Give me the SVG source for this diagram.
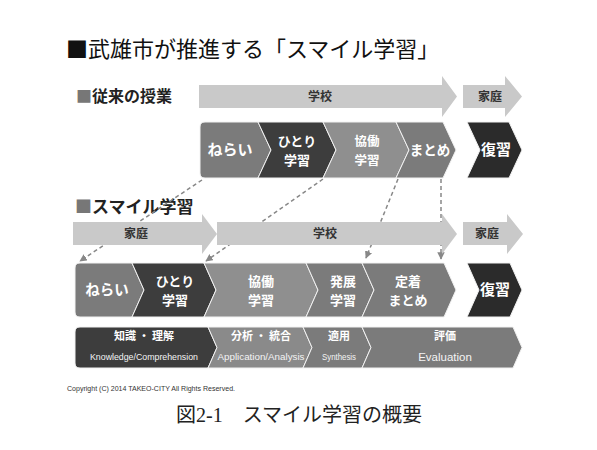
<svg xmlns="http://www.w3.org/2000/svg" width="597" height="450" viewBox="0 0 597 450">
<style>
.jp{font-family:"Noto Sans CJK JP","Liberation Sans",sans-serif}
.ttl{font-size:22px;fill:#111}
.sec{font-size:16px;font-weight:bold;fill:#222}
.arr{fill:#c9c9c9}
.al{font-size:12px;font-weight:bold;fill:#333;text-anchor:middle}
.ch{stroke:#f2f2f2;stroke-width:1}
.ct{fill:#fff;text-anchor:middle;font-weight:bold}
.en{font-family:"Liberation Sans",sans-serif;fill:#f4f4f4;text-anchor:middle}
.dash{stroke:#888;stroke-width:1.5;stroke-dasharray:4 3;fill:none;marker-end:url(#ah)}
</style>
<defs>
<marker id="ah" viewBox="0 0 10 10" refX="9" refY="5" markerWidth="5" markerHeight="5" orient="auto" markerUnits="strokeWidth">
<path d="M0,0 L10,5 L0,10 Z" fill="#888"/>
</marker>
</defs>
<rect width="597" height="450" fill="#fff"/>

<text class="jp ttl" x="66" y="57">■武雄市が推進する「スマイル学習」</text>
<text class="jp sec" x="76" y="102"><tspan fill="#777">■</tspan>従来の授業</text>
<text class="jp sec" x="75" y="213" style="font-size:17px"><tspan fill="#777">■</tspan>スマイル学習</text>

<g id="connectors">
<line class="dash" x1="202" y1="180" x2="80" y2="261"/>
<line class="dash" x1="323" y1="179" x2="206" y2="261"/>
<line class="dash" x1="398" y1="179" x2="366" y2="258"/>
<line class="dash" x1="441" y1="179" x2="441" y2="259"/>
</g>

<g id="top-school"><path class="arr" d="M199,85 L442,85 L442,76 L457,96.5 L442,117 L442,108 L199,108 Z"/><text class="jp al" x="320" y="101">学校</text></g>
<g id="top-home"><path class="arr" d="M463,85 L505,85 L505,76 L522,96.5 L505,117 L505,108 L463,108 Z"/><text class="jp al" x="490" y="101">家庭</text></g>

<g id="t-nerai"><path class="ch" fill="#7b7b7b" d="M205,122 L258,122 L271,150 L258,178 L205,178 Q200,178 200,173 L200,127 Q200,122 205,122 Z"/><text class="jp ct" x="230" y="155" font-size="15">ねらい</text></g>
<g id="t-hitori"><path class="ch" fill="#3d3d3d" d="M258,122 L323,122 L336,150 L323,178 L258,178 L271,150 Z"/><text class="jp ct" x="297" y="146" font-size="13">ひとり</text><text class="jp ct" x="297" y="165" font-size="13">学習</text></g>
<g id="t-kyodo"><path class="ch" fill="#8f8f8f" d="M323,122 L396,122 L409,150 L396,178 L323,178 L336,150 Z"/><text class="jp ct" x="367" y="146" font-size="12.5">協働</text><text class="jp ct" x="367" y="165" font-size="12.5">学習</text></g>
<g id="t-matome"><path class="ch" fill="#7b7b7b" d="M396,122 L443,122 L456,150 L443,178 L396,178 L409,150 Z"/><text class="jp ct" x="430" y="155" font-size="13.5">まとめ</text></g>
<g id="t-fukushu"><path class="ch" fill="#2b2b2b" d="M467,122 L509,122 L522,150 L509,178 L467,178 L480,150 Z"/><text class="jp ct" x="496" y="155" font-size="15">復習</text></g>

<g id="s-home1"><path class="arr" d="M73,222 L202,222 L202,214 L217,234 L202,254 L202,245 L73,245 Z"/><text class="jp al" x="136" y="238">家庭</text></g>
<g id="s-school"><path class="arr" d="M217,222 L442,222 L442,214 L457,234 L442,254 L442,245 L217,245 Z"/><text class="jp al" x="325" y="238">学校</text></g>
<g id="s-home2"><path class="arr" d="M463,222 L507,222 L507,214 L523,234 L507,254 L507,245 L463,245 Z"/><text class="jp al" x="487" y="238">家庭</text></g>

<g id="s-nerai"><path class="ch" fill="#7b7b7b" d="M80,263 L132,263 L144,290 L132,317 L80,317 Q75,317 75,312 L75,268 Q75,263 80,263 Z"/><text class="jp ct" x="107" y="295" font-size="14.5">ねらい</text></g>
<g id="s-hitori"><path class="ch" fill="#3d3d3d" d="M132,263 L204,263 L216,290 L204,317 L132,317 L144,290 Z"/><text class="jp ct" x="175" y="286" font-size="13">ひとり</text><text class="jp ct" x="175" y="305" font-size="13">学習</text></g>
<g id="s-kyodo"><path class="ch" fill="#8f8f8f" d="M204,263 L306,263 L318,290 L306,317 L204,317 L216,290 Z"/><text class="jp ct" x="261" y="286" font-size="13">協働</text><text class="jp ct" x="261" y="305" font-size="13">学習</text></g>
<g id="s-hatten"><path class="ch" fill="#7b7b7b" d="M306,263 L362,263 L374,290 L362,317 L306,317 L318,290 Z"/><text class="jp ct" x="343" y="286" font-size="13">発展</text><text class="jp ct" x="343" y="305" font-size="13">学習</text></g>
<g id="s-teichaku"><path class="ch" fill="#7b7b7b" d="M362,263 L444,263 L456,290 L444,317 L362,317 L374,290 Z"/><text class="jp ct" x="408" y="286" font-size="13">定着</text><text class="jp ct" x="408" y="305" font-size="13">まとめ</text></g>
<g id="s-fukushu"><path class="ch" fill="#2b2b2b" d="M467,263 L510,263 L522,290 L510,317 L467,317 L479,290 Z"/><text class="jp ct" x="495" y="295" font-size="15">復習</text></g>

<g id="b-knowledge"><path class="ch" fill="#3d3d3d" d="M80,327 L208,327 L217,347.5 L208,368 L80,368 Q75,368 75,363 L75,332 Q75,327 80,327 Z"/><text class="jp ct" x="144" y="340" font-size="11">知識 ・ 理解</text><text class="en" x="144" y="360" font-size="9.5" textLength="108" lengthAdjust="spacingAndGlyphs">Knowledge/Comprehension</text></g>
<g id="b-analysis"><path class="ch" fill="#8a8a8a" d="M208,327 L303,327 L312,347.5 L303,368 L208,368 L217,347.5 Z"/><text class="jp ct" x="261" y="340" font-size="11">分析 ・ 統合</text><text class="en" x="261" y="360" font-size="9.5" textLength="87" lengthAdjust="spacingAndGlyphs">Application/Analysis</text></g>
<g id="b-synthesis"><path class="ch" fill="#7b7b7b" d="M303,327 L362,327 L371,347.5 L362,368 L303,368 L312,347.5 Z"/><text class="jp ct" x="339" y="340" font-size="11">適用</text><text class="en" x="339" y="360" font-size="9.5" textLength="34" lengthAdjust="spacingAndGlyphs">Synthesis</text></g>
<g id="b-evaluation"><path class="ch" fill="#7b7b7b" d="M362,327 L513,327 L522,347.5 L513,368 L362,368 L371,347.5 Z"/><text class="jp ct" x="445" y="340" font-size="11">評価</text><text class="en" x="445" y="361" font-size="11.5">Evaluation</text></g>

<text x="67" y="391" font-family="Liberation Sans, sans-serif" font-size="6.5" fill="#333" textLength="168" lengthAdjust="spacingAndGlyphs">Copyright (C) 2014 TAKEO-CITY  All Rights Reserved.</text>
<text x="176" y="422" font-family="Liberation Serif, 'Noto Sans CJK JP', serif" font-size="20" fill="#222">図2-1　スマイル学習の概要</text>
</svg>
